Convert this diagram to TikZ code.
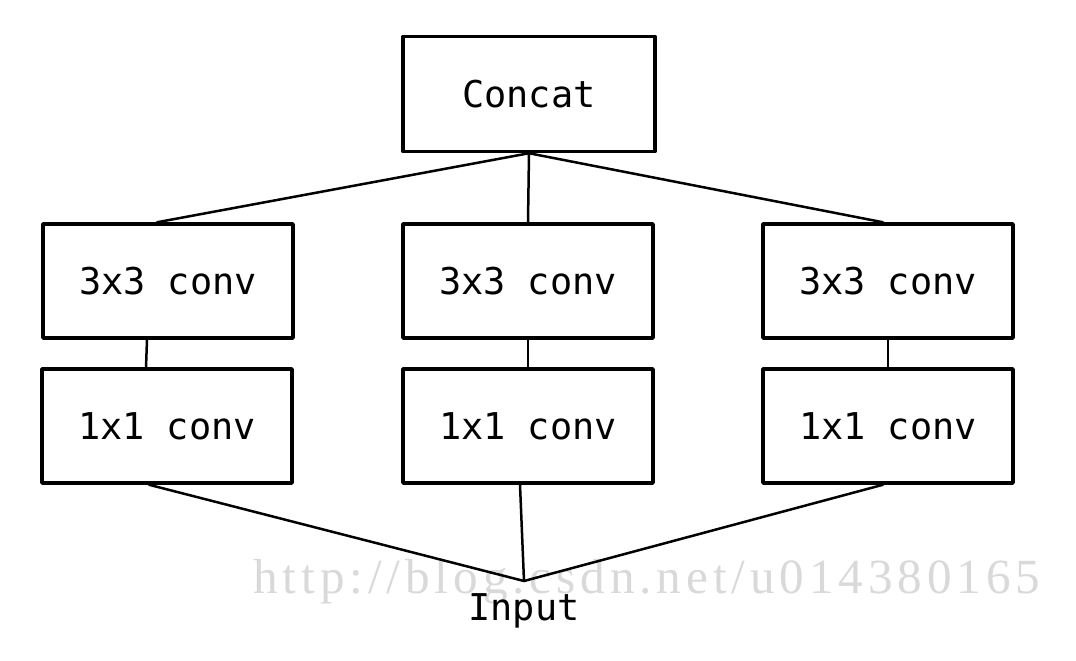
\documentclass[tikz,border=0pt]{standalone}
\usepackage{fontspec}
\setmonofont{DejaVu Sans Mono}
\newfontfamily\markfont[LetterSpace=10]{Liberation Serif}
\usepackage{tikz}

\begin{document}
\begin{tikzpicture}[line cap=round,line join=round,x=0.02cm,y=-0.02cm,
  convbox/.style={draw,line width=0.07cm,minimum width=5cm,minimum height=2.28cm,inner sep=0pt,
    font=\ttfamily\fontsize{21}{24}\selectfont},
  link/.style={line width=0.05cm}]
\useasboundingbox (0,0) rectangle (1076,660);
\node (mark) [text=black!15,font=\markfont\fontsize{28}{30}\selectfont,anchor=base] at (647,593) {http://blog.csdn.net/u014380165};
\node (concat) [convbox,minimum width=5.04cm,minimum height=2.3cm] at (529,94) {Concat};
\node (c3l) [convbox] at (168,281) {3x3 conv};
\node (c3m) [convbox] at (528,281) {3x3 conv};
\node (c3r) [convbox] at (888,281) {3x3 conv};
\node (c1l) [convbox] at (167,426) {1x1 conv};
\node (c1m) [convbox] at (528,426) {1x1 conv};
\node (c1r) [convbox] at (888,426) {1x1 conv};
\node (input) [anchor=north,inner sep=6.8pt,font=\ttfamily\fontsize{21}{24}\selectfont] at (524,581) {Input};
\draw [link] (concat.south) -- ([xshift=-0.22cm]c3l.north);
\draw [link] (concat.south) -- (c3m.north);
\draw [link] (concat.south) -- ([xshift=-0.1cm]c3r.north);
\draw [link] ([xshift=-0.42cm]c3l.south) -- ([xshift=-0.42cm]c1l.north);
\draw [link] (c3m.south) -- (c1m.north);
\draw [link] (c3r.south) -- (c1r.north);
\draw [link] ([xshift=-0.36cm]c1l.south) -- (input.north);
\draw [link] ([xshift=-0.16cm]c1m.south) -- (input.north);
\draw [link] ([xshift=-0.1cm]c1r.south) -- (input.north);
\end{tikzpicture}
\end{document}
